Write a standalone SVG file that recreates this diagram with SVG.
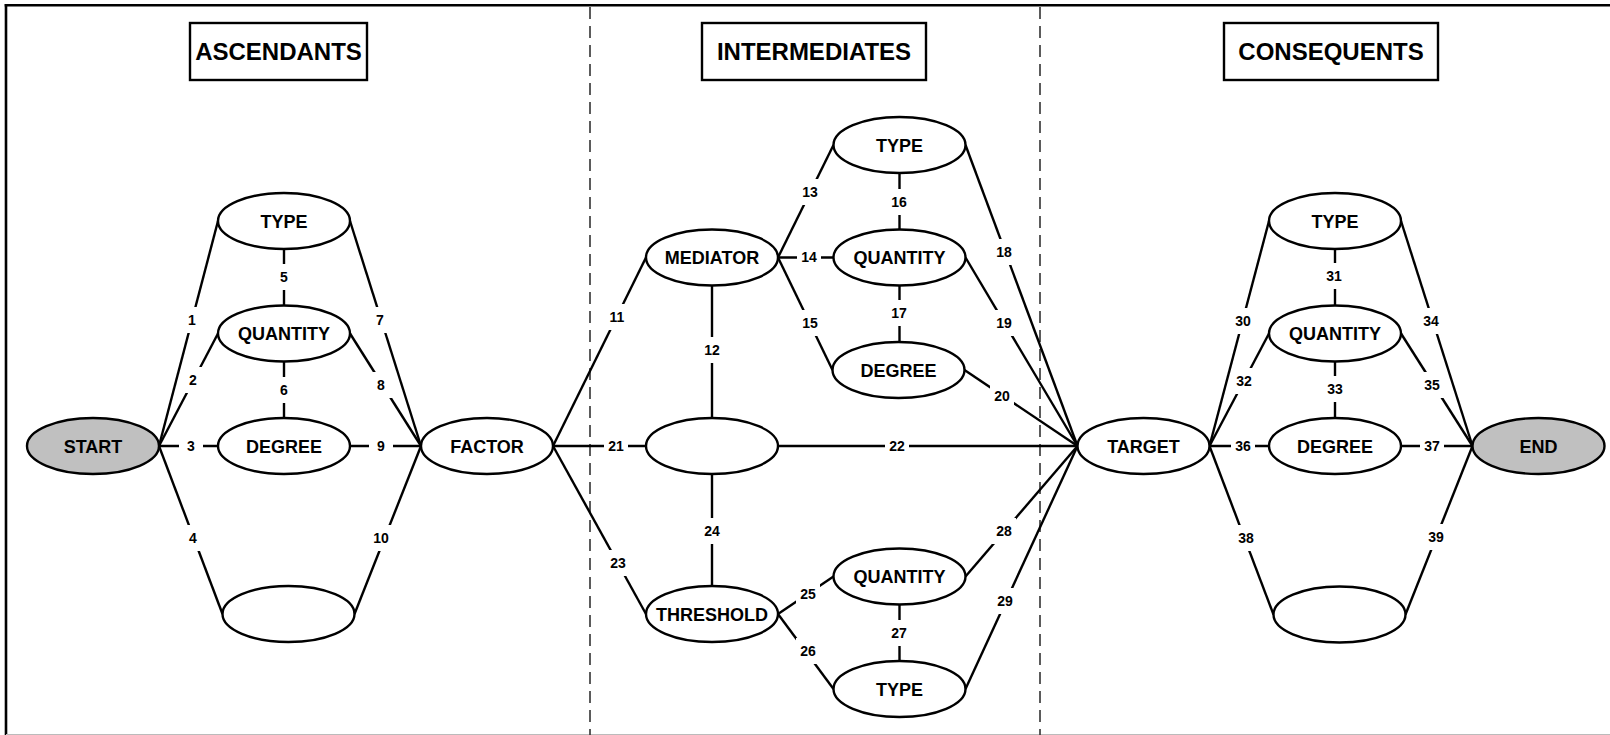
<svg xmlns="http://www.w3.org/2000/svg" width="1610" height="735" viewBox="0 0 1610 735">
  <style>
    .frame { fill: none; stroke: #000; stroke-width: 2.6; }
    .divider { fill: none; stroke: #333; stroke-width: 1.6; stroke-dasharray: 12 7; }
    .hdr rect { fill: #fff; stroke: #000; stroke-width: 2.4; }
    .hdr text { font-family: "Liberation Sans", Arial, sans-serif; font-weight: bold; font-size: 24px; text-anchor: middle; fill: #000; }
    .node ellipse { fill: #fff; stroke: #000; stroke-width: 2.4; }
    .node.term ellipse { fill: #c0c0c0; }
    .node text { font-family: "Liberation Sans", Arial, sans-serif; font-weight: bold; font-size: 18px; text-anchor: middle; fill: #000; }
    #edges line { stroke: #000; stroke-width: 2.4; }
    #edge-labels rect { fill: #fff; stroke: none; }
    #edge-labels text { font-family: "Liberation Sans", Arial, sans-serif; font-weight: bold; font-size: 14px; text-anchor: middle; fill: #000; }
  </style>

  <rect x="0" y="0" width="1610" height="735" fill="#fff"/>

  <!-- outer frame (top and left rule, light base line) -->
  <line class="frame" x1="4.7" y1="5.2" x2="1610" y2="5.2"/>
  <line class="frame" x1="6" y1="4" x2="6" y2="735"/>
  <line x1="6" y1="734.5" x2="1610" y2="734.5" stroke="#bbb" stroke-width="1"/>

  <!-- column dividers -->
  <line class="divider" x1="590" y1="7" x2="590" y2="735"/>
  <line class="divider" x1="1040" y1="7" x2="1040" y2="735"/>

  <!-- column headers -->
  <g id="hdr-ascendants" class="hdr">
    <rect x="190" y="23" width="177" height="57"/>
    <text x="278.5" y="60">ASCENDANTS</text>
  </g>
  <g id="hdr-intermediates" class="hdr">
    <rect x="702" y="23" width="224" height="57"/>
    <text x="814" y="60">INTERMEDIATES</text>
  </g>
  <g id="hdr-consequents" class="hdr">
    <rect x="1224" y="23" width="214" height="57"/>
    <text x="1331" y="60">CONSEQUENTS</text>
  </g>

  <!-- connectors -->
  <g id="edges">
    <!-- ascendants -->
    <line x1="159" y1="446" x2="218" y2="221"/>
    <line x1="159" y1="446" x2="218" y2="333.5"/>
    <line x1="159" y1="446" x2="218" y2="446"/>
    <line x1="159" y1="446" x2="222.5" y2="614"/>
    <line x1="284" y1="249" x2="284" y2="305.5"/>
    <line x1="284" y1="361.5" x2="284" y2="418"/>
    <line x1="350" y1="221" x2="421" y2="446"/>
    <line x1="350" y1="333.5" x2="421" y2="446"/>
    <line x1="350" y1="446" x2="421" y2="446"/>
    <line x1="354.5" y1="614" x2="421" y2="446"/>
    <!-- intermediates -->
    <line x1="553" y1="446" x2="646" y2="257.5"/>
    <line x1="712" y1="285.5" x2="712" y2="418"/>
    <line x1="778" y1="257.5" x2="833.5" y2="145"/>
    <line x1="778" y1="257.5" x2="833.5" y2="257.5"/>
    <line x1="778" y1="257.5" x2="832.5" y2="370"/>
    <line x1="899.5" y1="173" x2="899.5" y2="229.5"/>
    <line x1="899.5" y1="285.5" x2="899.5" y2="342"/>
    <line x1="965.5" y1="145" x2="1077.5" y2="446"/>
    <line x1="965.5" y1="257.5" x2="1077.5" y2="446"/>
    <line x1="964.5" y1="370" x2="1077.5" y2="446"/>
    <line x1="553" y1="446" x2="646" y2="446"/>
    <line x1="778" y1="446" x2="1077.5" y2="446"/>
    <line x1="553" y1="446" x2="646" y2="614"/>
    <line x1="712" y1="474" x2="712" y2="586"/>
    <line x1="778" y1="614" x2="833.5" y2="576.5"/>
    <line x1="778" y1="614" x2="833.5" y2="689"/>
    <line x1="899.5" y1="604.5" x2="899.5" y2="661"/>
    <line x1="965.5" y1="576.5" x2="1077.5" y2="446"/>
    <line x1="965.5" y1="689" x2="1077.5" y2="446"/>
    <!-- consequents -->
    <line x1="1209.5" y1="446" x2="1269" y2="221"/>
    <line x1="1335" y1="249" x2="1335" y2="305.5"/>
    <line x1="1209.5" y1="446" x2="1269" y2="333.5"/>
    <line x1="1335" y1="361.5" x2="1335" y2="418"/>
    <line x1="1401" y1="221" x2="1472.5" y2="446"/>
    <line x1="1401" y1="333.5" x2="1472.5" y2="446"/>
    <line x1="1209.5" y1="446" x2="1269" y2="446"/>
    <line x1="1401" y1="446" x2="1472.5" y2="446"/>
    <line x1="1209.5" y1="446" x2="1273.5" y2="614.5"/>
    <line x1="1405.5" y1="614.5" x2="1472.5" y2="446"/>
  </g>

  <!-- connector numbers on white plates -->
  <g id="edge-labels">
    <rect x="180" y="307" width="24" height="26"/><text x="192" y="325">1</text>
    <rect x="181" y="367" width="24" height="26"/><text x="193" y="385">2</text>
    <rect x="179" y="433" width="24" height="26"/><text x="191" y="451">3</text>
    <rect x="181" y="525" width="24" height="26"/><text x="193" y="543">4</text>
    <rect x="272" y="264" width="24" height="26"/><text x="284" y="282">5</text>
    <rect x="272" y="377" width="24" height="26"/><text x="284" y="395">6</text>
    <rect x="368" y="307" width="24" height="26"/><text x="380" y="325">7</text>
    <rect x="369" y="372" width="24" height="26"/><text x="381" y="390">8</text>
    <rect x="369" y="433" width="24" height="26"/><text x="381" y="451">9</text>
    <rect x="369" y="525" width="24" height="26"/><text x="381" y="543">10</text>
    <rect x="605" y="304" width="24" height="26"/><text x="617" y="322">11</text>
    <rect x="700" y="337" width="24" height="26"/><text x="712" y="355">12</text>
    <rect x="798" y="179" width="24" height="26"/><text x="810" y="197">13</text>
    <rect x="797" y="244" width="24" height="26"/><text x="809" y="262">14</text>
    <rect x="798" y="310" width="24" height="26"/><text x="810" y="328">15</text>
    <rect x="887" y="189" width="24" height="26"/><text x="899" y="207">16</text>
    <rect x="887" y="300" width="24" height="26"/><text x="899" y="318">17</text>
    <rect x="992" y="239" width="24" height="26"/><text x="1004" y="257">18</text>
    <rect x="992" y="310" width="24" height="26"/><text x="1004" y="328">19</text>
    <rect x="990" y="383" width="24" height="26"/><text x="1002" y="401">20</text>
    <rect x="604" y="433" width="24" height="26"/><text x="616" y="451">21</text>
    <rect x="885" y="433" width="24" height="26"/><text x="897" y="451">22</text>
    <rect x="606" y="550" width="24" height="26"/><text x="618" y="568">23</text>
    <rect x="700" y="518" width="24" height="26"/><text x="712" y="536">24</text>
    <rect x="796" y="581" width="24" height="26"/><text x="808" y="599">25</text>
    <rect x="796" y="638" width="24" height="26"/><text x="808" y="656">26</text>
    <rect x="887" y="620" width="24" height="26"/><text x="899" y="638">27</text>
    <rect x="992" y="518" width="24" height="26"/><text x="1004" y="536">28</text>
    <rect x="993" y="588" width="24" height="26"/><text x="1005" y="606">29</text>
    <rect x="1231" y="308" width="24" height="26"/><text x="1243" y="326">30</text>
    <rect x="1322" y="263" width="24" height="26"/><text x="1334" y="281">31</text>
    <rect x="1232" y="368" width="24" height="26"/><text x="1244" y="386">32</text>
    <rect x="1323" y="376" width="24" height="26"/><text x="1335" y="394">33</text>
    <rect x="1419" y="308" width="24" height="26"/><text x="1431" y="326">34</text>
    <rect x="1420" y="372" width="24" height="26"/><text x="1432" y="390">35</text>
    <rect x="1231" y="433" width="24" height="26"/><text x="1243" y="451">36</text>
    <rect x="1420" y="433" width="24" height="26"/><text x="1432" y="451">37</text>
    <rect x="1234" y="525" width="24" height="26"/><text x="1246" y="543">38</text>
    <rect x="1424" y="524" width="24" height="26"/><text x="1436" y="542">39</text>
  </g>

  <!-- ascendant nodes -->
  <g id="start" class="node term"><ellipse cx="93" cy="446" rx="66" ry="28"/><text x="93" y="452.5">START</text></g>
  <g id="asc-type" class="node"><ellipse cx="284" cy="221" rx="66" ry="28"/><text x="284" y="227.5">TYPE</text></g>
  <g id="asc-quantity" class="node"><ellipse cx="284" cy="333.5" rx="66" ry="28"/><text x="284" y="340">QUANTITY</text></g>
  <g id="asc-degree" class="node"><ellipse cx="284" cy="446" rx="66" ry="28"/><text x="284" y="452.5">DEGREE</text></g>
  <g id="asc-blank" class="node"><ellipse cx="288.5" cy="614" rx="66" ry="28"/></g>
  <g id="factor" class="node"><ellipse cx="487" cy="446" rx="66" ry="28"/><text x="487" y="452.5">FACTOR</text></g>

  <!-- intermediate nodes -->
  <g id="mediator" class="node"><ellipse cx="712" cy="257.5" rx="66" ry="28"/><text x="712" y="264">MEDIATOR</text></g>
  <g id="int-blank" class="node"><ellipse cx="712" cy="446" rx="66" ry="28"/></g>
  <g id="threshold" class="node"><ellipse cx="712" cy="614" rx="66" ry="28"/><text x="712" y="620.5">THRESHOLD</text></g>
  <g id="med-type" class="node"><ellipse cx="899.5" cy="145" rx="66" ry="28"/><text x="899.5" y="151.5">TYPE</text></g>
  <g id="med-quantity" class="node"><ellipse cx="899.5" cy="257.5" rx="66" ry="28"/><text x="899.5" y="264">QUANTITY</text></g>
  <g id="med-degree" class="node"><ellipse cx="898.5" cy="370" rx="66" ry="28"/><text x="898.5" y="376.5">DEGREE</text></g>
  <g id="thr-quantity" class="node"><ellipse cx="899.5" cy="576.5" rx="66" ry="28"/><text x="899.5" y="583">QUANTITY</text></g>
  <g id="thr-type" class="node"><ellipse cx="899.5" cy="689" rx="66" ry="28"/><text x="899.5" y="695.5">TYPE</text></g>

  <!-- consequent nodes -->
  <g id="target" class="node"><ellipse cx="1143.5" cy="446" rx="66" ry="28"/><text x="1143.5" y="452.5">TARGET</text></g>
  <g id="con-type" class="node"><ellipse cx="1335" cy="221" rx="66" ry="28"/><text x="1335" y="227.5">TYPE</text></g>
  <g id="con-quantity" class="node"><ellipse cx="1335" cy="333.5" rx="66" ry="28"/><text x="1335" y="340">QUANTITY</text></g>
  <g id="con-degree" class="node"><ellipse cx="1335" cy="446" rx="66" ry="28"/><text x="1335" y="452.5">DEGREE</text></g>
  <g id="con-blank" class="node"><ellipse cx="1339.5" cy="614.5" rx="66" ry="28"/></g>
  <g id="end" class="node term"><ellipse cx="1538.5" cy="446" rx="66" ry="28"/><text x="1538.5" y="452.5">END</text></g>
</svg>
